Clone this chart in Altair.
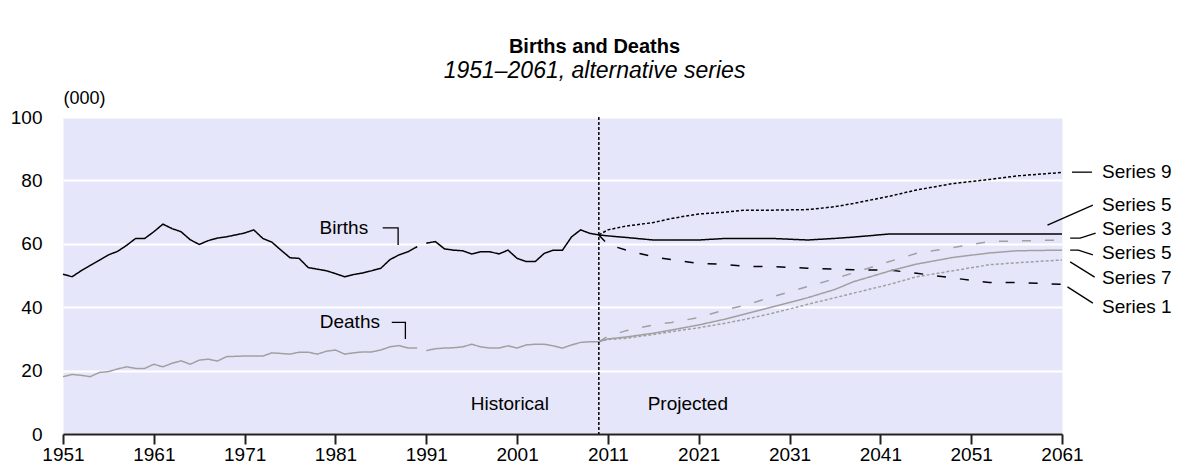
import altair as alt
import pandas as pd

FONT = "Liberation Sans"

# ---------------- data ----------------
hist_years = list(range(1951, 2011))
births_hist = [50.4, 49.6, 51.5, 53.2, 54.8, 56.5, 57.6, 59.5, 61.7, 61.7,
               63.8, 66.2, 64.8, 63.8, 61.3, 59.8, 61.0, 61.8, 62.2, 62.8,
               63.4, 64.4, 61.7, 60.5, 58.0, 55.6, 55.4, 52.5, 52.0, 51.5,
               50.6, 49.6, 50.3, 50.8, 51.5, 52.3, 55.0, 56.5, 57.5, 59.1,
               60.2, 60.7, 58.4, 58.0, 57.8, 56.8, 57.5, 57.5, 56.8, 58.0,
               55.4, 54.4, 54.4, 57.0, 58.0, 58.0, 62.2, 64.4, 63.3, 62.8]
deaths_hist = [18.1, 18.8, 18.5, 18.1, 19.4, 19.7, 20.5, 21.2, 20.7, 20.7,
               22.0, 21.2, 22.3, 23.1, 22.0, 23.3, 23.6, 23.0, 24.4, 24.5,
               24.6, 24.6, 24.6, 25.6, 25.4, 25.2, 25.8, 25.8, 25.2, 26.1,
               26.5, 25.2, 25.6, 25.9, 25.9, 26.5, 27.5, 27.9, 27.1, 27.1,
               26.3, 26.9, 27.1, 27.2, 27.5, 28.3, 27.5, 27.1, 27.1, 27.8,
               27.1, 28.1, 28.3, 28.3, 27.8, 27.1, 28.1, 28.9, 29.1, 29.1]
break_year = 1990  # series break between 1990 and 1991

proj_years = [2010, 2011, 2013, 2016, 2018, 2021, 2024, 2026, 2029, 2033,
              2036, 2038, 2042, 2045, 2049, 2053, 2056, 2061]
births_s9 = [62.8, 64.4, 65.6, 66.7, 68.0, 69.4, 70.0, 70.6, 70.6, 70.8,
             71.7, 72.7, 75.0, 77.0, 79.0, 80.3, 81.4, 82.5]
births_s5 = [62.8, 62.5, 62.0, 61.2, 61.2, 61.2, 61.7, 61.7, 61.7, 61.2,
             61.7, 62.1, 63.1, 63.1, 63.1, 63.1, 63.1, 63.1]
births_s1 = [62.8, 59.8, 58.0, 55.9, 55.0, 53.8, 53.5, 52.9, 52.8, 52.3,
             52.0, 51.8, 51.7, 50.7, 49.2, 47.8, 47.8, 47.2]
deaths_s3 = [29.1, 30.8, 32.6, 34.4, 35.2, 36.7, 39.3, 40.5, 43.2, 46.5,
             49.0, 50.8, 54.4, 57.0, 58.8, 60.7, 60.9, 61.2]
deaths_s5 = [29.1, 30.0, 30.6, 31.8, 32.8, 34.4, 36.3, 37.8, 40.0, 43.0,
             45.6, 48.0, 51.4, 53.6, 55.7, 57.1, 57.8, 58.0]
deaths_s7 = [29.1, 29.8, 30.2, 31.4, 32.3, 33.5, 35.0, 36.1, 38.0, 40.9,
             43.0, 44.4, 47.2, 49.6, 51.5, 53.4, 54.0, 54.9]

projection_start = 2010
x_ticks = [1951, 1961, 1971, 1981, 1991, 2001, 2011, 2021, 2031, 2041, 2051, 2061]
y_ticks = [0, 20, 40, 60, 80, 100]

series_labels = ["Series 9", "Series 5", "Series 3", "Series 5", "Series 7", "Series 1"]
series_label_year = [2065.4] * 6
series_label_value = [82.6, 72.2, 64.7, 57.1, 49.2, 40.1]

# leader lines (id, year, value)
leader_ids = ["L9", "L9", "L5a", "L5a", "L3", "L3", "L3", "L5b", "L5b", "L5b",
              "L7", "L7", "L1", "L1", "LB", "LB", "LB", "LD", "LD", "LD"]
leader_years = [2062.1, 2064.3, 2059.4, 2064.4, 2061.9, 2063.0, 2064.7,
                2061.9, 2062.8, 2064.4, 2061.9, 2064.6, 2061.6, 2064.4,
                1986.2, 1987.9, 1987.9, 1987.2, 1988.7, 1988.7]
leader_values = [82.6, 82.6, 65.9, 72.2, 61.8, 61.8, 63.4,
                 58.0, 58.0, 56.5, 54.3, 49.5, 46.4, 41.3,
                 65.0, 65.0, 59.6, 35.2, 35.2, 30.0]

note_text = ["Births", "Deaths", "Historical", "Projected"]
note_year = [1984.6, 1985.9, 2000.2, 2019.8]
note_value = [65.0, 35.3, 9.5, 9.5]
note_align = ["right", "right", "center", "center"]

# ---------------- build tables ----------------
rows = []
for yr, b, d in zip(hist_years, births_hist, deaths_hist):
    part = "1" if yr <= break_year else "2"
    rows.append(dict(year=yr, value=b, line="Births-" + part))
    rows.append(dict(year=yr, value=d, line="Deaths-" + part))
for name, vals in [("B-S9", births_s9), ("B-S5", births_s5), ("B-S1", births_s1),
                   ("D-S3", deaths_s3), ("D-S5", deaths_s5), ("D-S7", deaths_s7)]:
    for yr, v in zip(proj_years, vals):
        rows.append(dict(year=yr, value=v, line=name))
lines_df = pd.DataFrame(rows)

BLACK = "#000000"
GREY = "#a0a0a0"
line_ids = ["Births-1", "Births-2", "Deaths-1", "Deaths-2",
            "B-S9", "B-S5", "B-S1", "D-S3", "D-S5", "D-S7"]
line_colors = [BLACK, BLACK, GREY, GREY, BLACK, BLACK, BLACK, GREY, GREY, GREY]
line_dash = [[1, 0], [1, 0], [1, 0], [1, 0], [3, 2], [1, 0], [9, 14], [9, 14], [1, 0], [3, 2]]
line_width = [1.5, 1.5, 1.5, 1.5, 1.5, 2, 2, 1.5, 1.5, 1.5]

X_SCALE = alt.Scale(domain=[1951, 2061], nice=False, zero=False)
Y_SCALE = alt.Scale(domain=[0, 100], nice=False)
X_AXIS = alt.Axis(values=x_ticks, format="d", title=None, grid=False,
                  labelFontSize=19, labelColor="black", labelPadding=1,
                  tickSize=10, tickWidth=2, tickColor="#222222",
                  domainColor="#222222", domainWidth=2, labelFlush=False)
Y_AXIS = alt.Axis(values=y_ticks, title="(000)", grid=True, gridColor="white",
                  gridWidth=2, domain=False, ticks=False, tickSize=0,
                  labelFontSize=19, labelColor="black", labelPadding=21,
                  titleAngle=0, titleX=0, titleY=-19, titleAlign="left",
                  titleBaseline="middle", titleFontSize=18,
                  titleFontWeight="normal", titleColor="black")

def X(field="year"):
    return alt.X(field + ":Q", scale=X_SCALE, axis=X_AXIS)

def Y(field="value"):
    return alt.Y(field + ":Q", scale=Y_SCALE, axis=Y_AXIS)

lines = alt.Chart(lines_df).mark_line(interpolate="linear").encode(
    x=X(), y=Y(),
    detail="line:N",
    color=alt.Color("line:N", scale=alt.Scale(domain=line_ids, range=line_colors), legend=None),
    strokeDash=alt.StrokeDash("line:N", scale=alt.Scale(domain=line_ids, range=line_dash), legend=None),
    strokeWidth=alt.StrokeWidth("line:N", scale=alt.Scale(domain=line_ids, range=line_width), legend=None),
)

vline = alt.Chart(pd.DataFrame({"year": [projection_start]})).mark_rule(
    color="black", strokeDash=[3, 2], strokeWidth=1.5
).encode(x=X())

leader_df = pd.DataFrame({"id": leader_ids, "year": leader_years, "value": leader_values,
                          "ord": list(range(len(leader_ids)))})
leaders = alt.Chart(leader_df).mark_line(color="black", strokeWidth=1.3).encode(
    x=X(), y=Y(), detail="id:N", order="ord:Q"
)

lab_df = pd.DataFrame({"text": series_labels, "year": series_label_year, "value": series_label_value})
labels = alt.Chart(lab_df).mark_text(align="left", baseline="middle", fontSize=19,
                                     font=FONT, color="black").encode(
    x=X(), y=Y(), text="text:N"
)

note_df = pd.DataFrame({"text": note_text, "year": note_year, "value": note_value, "align": note_align})
notes_r = alt.Chart(note_df[note_df["align"] == "right"]).mark_text(
    align="right", baseline="middle", fontSize=19, font=FONT, color="black"
).encode(x=X(), y=Y(), text="text:N")
notes_c = alt.Chart(note_df[note_df["align"] == "center"]).mark_text(
    align="center", baseline="middle", fontSize=19, font=FONT, color="black"
).encode(x=X(), y=Y(), text="text:N")

chart = alt.layer(lines, vline, leaders, labels, notes_r, notes_c).properties(
    width=999, height=317,
    padding={"left": 55, "top": 109, "right": 115, "bottom": 32},
    autosize=alt.AutoSizeParams(type="none"),
    title=alt.TitleParams(
        text="Births and Deaths",
        subtitle="1951\u20132061, alternative series",
        anchor="middle", dx=32, offset=6, subtitlePadding=3,
        font=FONT, fontSize=20, fontWeight="bold", color="black",
        subtitleFont=FONT, subtitleFontSize=23, subtitleFontStyle="italic",
        subtitleColor="black",
    ),
).configure(font=FONT).configure_view(fill="#e6e6fa", stroke="transparent")

chart.save("out.html", embed_options={"renderer": "svg", "actions": False})
